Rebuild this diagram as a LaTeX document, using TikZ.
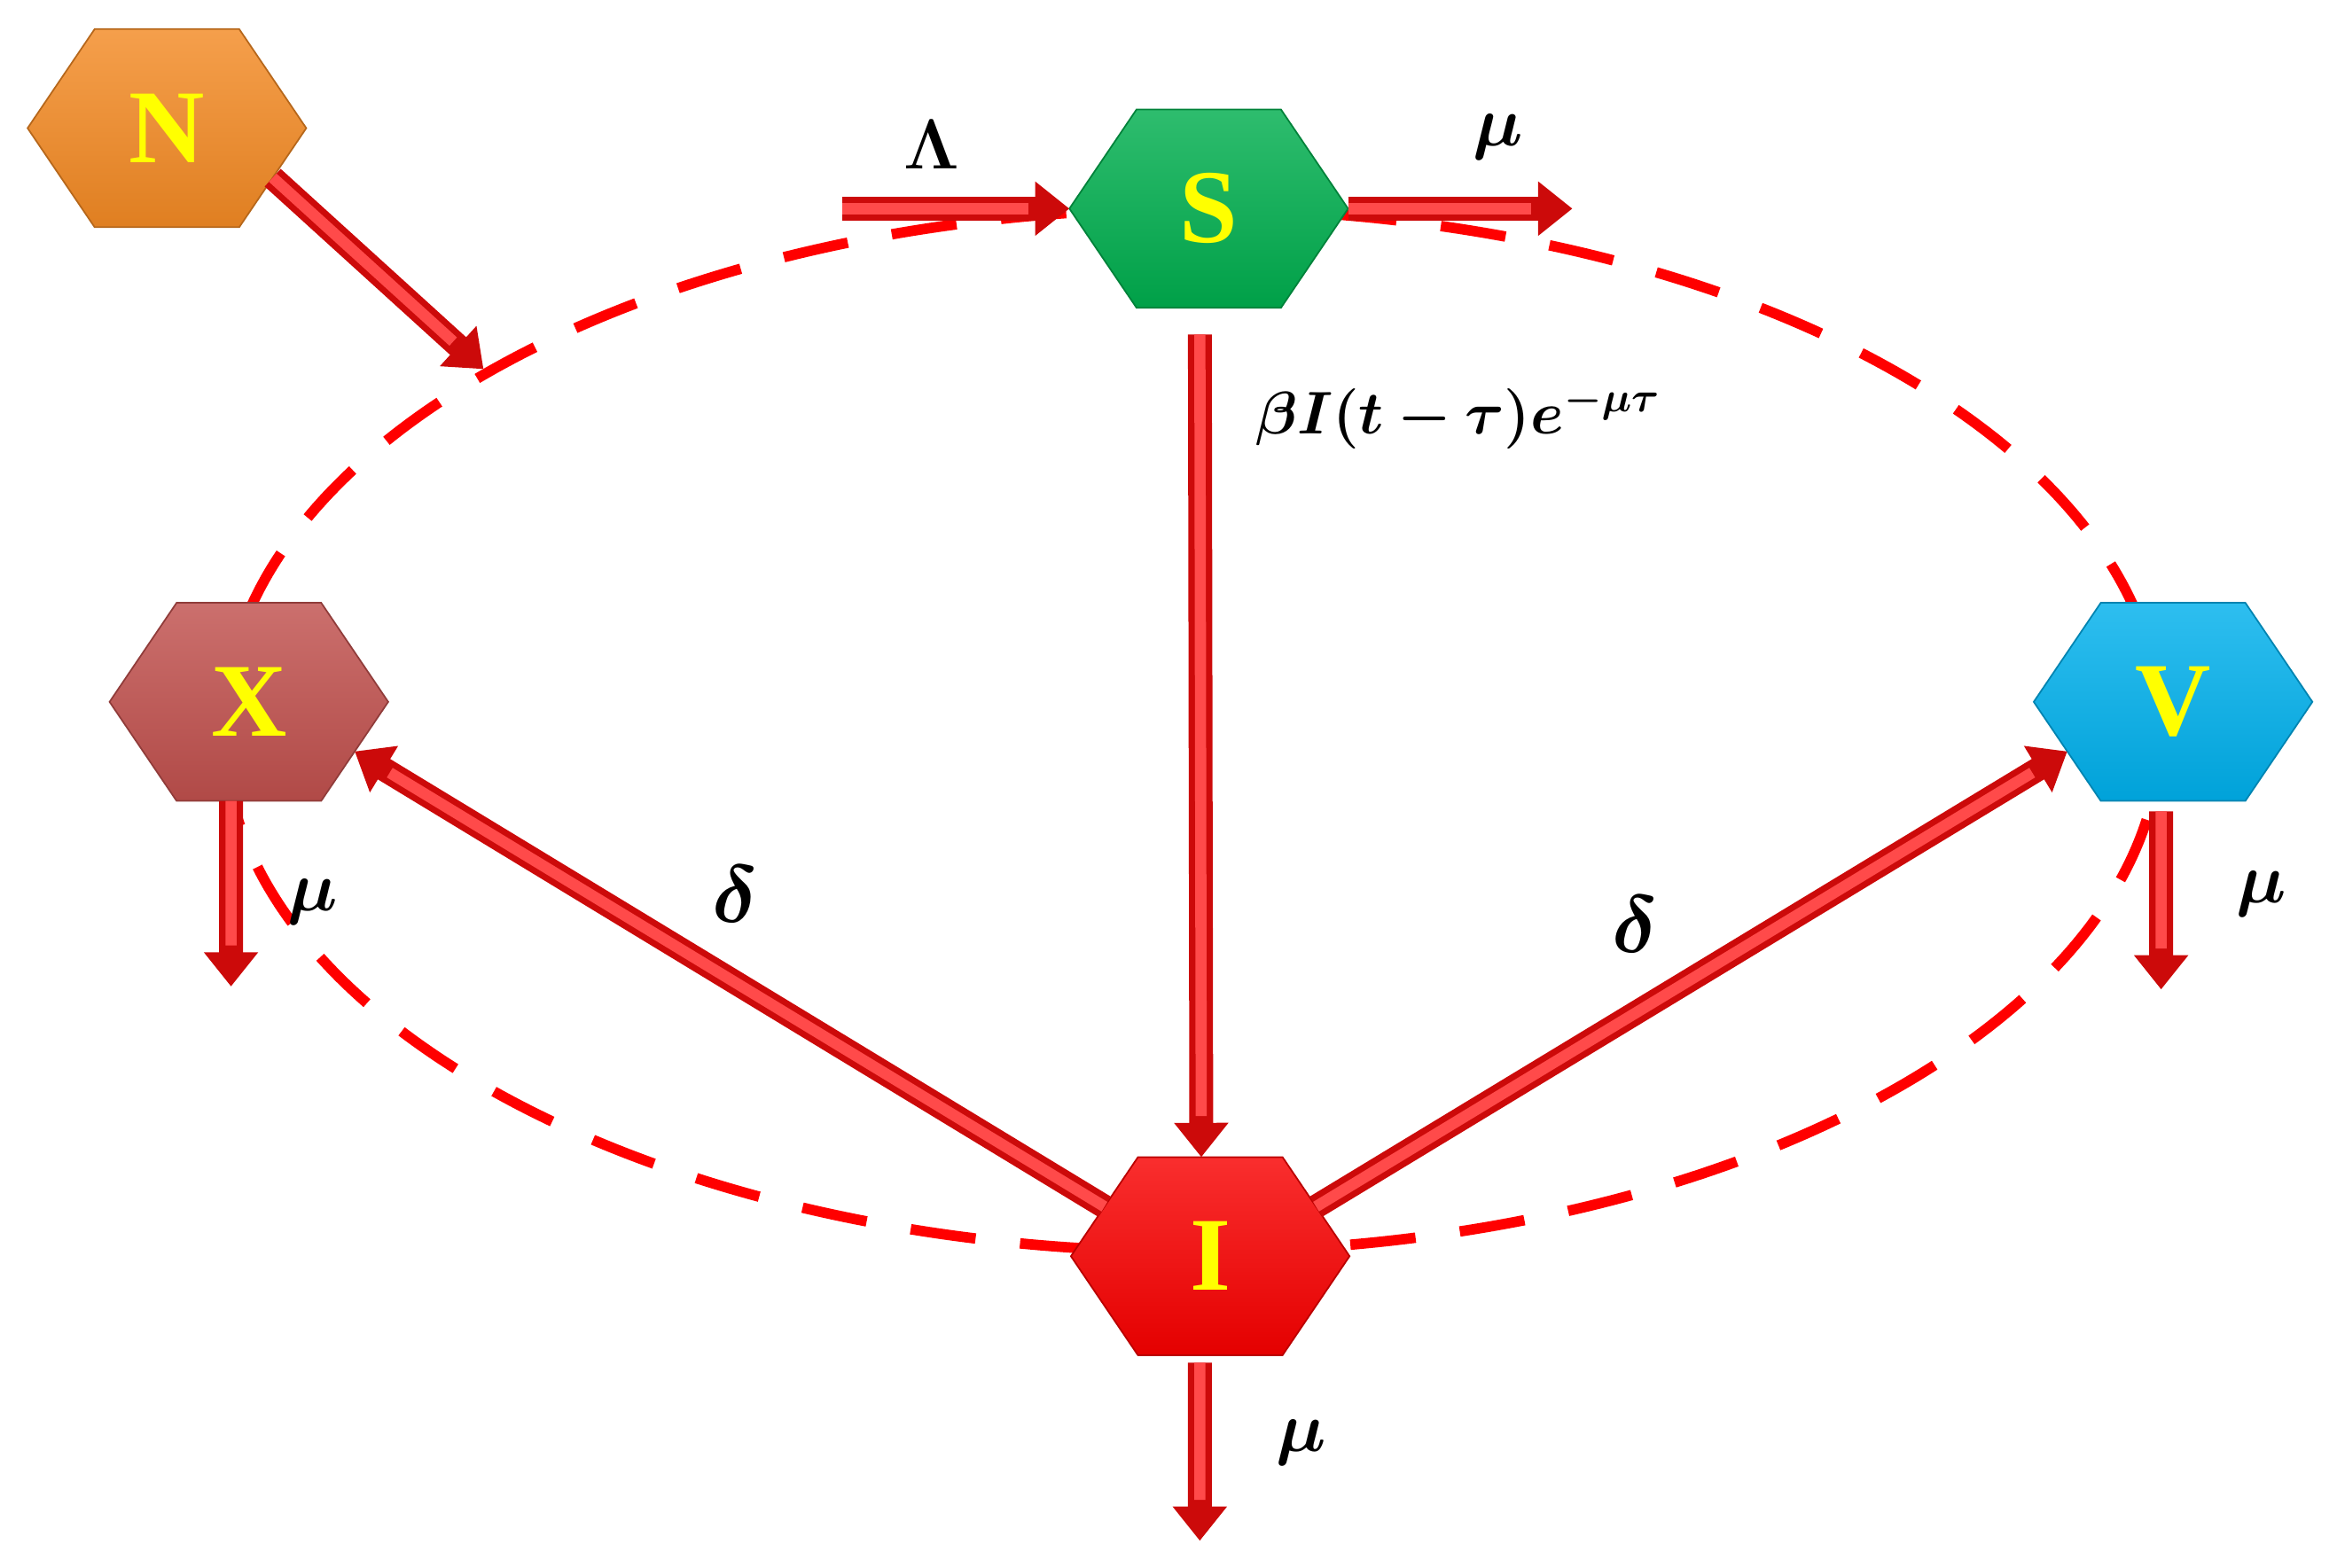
\RequirePackage{fix-cm}
\documentclass[tikz,border=0pt]{standalone}
\usepackage{amsmath,bm}
\usepackage{fontspec}
\setmainfont{Liberation Serif}
\usetikzlibrary{arrows.meta,shapes.geometric,calc}
\definecolor{hexyellow}{HTML}{FFFF00}
\definecolor{colN}{HTML}{F38A24}
\definecolor{colS}{HTML}{00AE4E}
\definecolor{colX}{HTML}{C0504D}
\definecolor{colV}{HTML}{00B0EC}
\definecolor{colI}{HTML}{F80000}
\definecolor{arrowdark}{HTML}{CC0A0A}
\definecolor{arrowlight}{HTML}{FF4A4A}
\definecolor{dashred}{HTML}{FF0000}
\newcommand\hexa[4]{%
  \node[hexbox] (#1) at (#2) {};
  \shadedraw[draw=#3!75!black, line width=0.6pt, top color=#3!82!white, bottom color=#3!92!black]
    ([xshift=0.9cm]#1.north west) -- ([xshift=-0.9cm]#1.north east) -- (#1.east)
    -- ([xshift=-0.9cm]#1.south east) -- ([xshift=0.9cm]#1.south west) -- (#1.west) -- cycle;
  \node[hexletter] (#1lbl) at (#1) {#4};
}
\newcommand\flowline[3][]{%
  \draw[flowarrow,#1] #2 -- #3;
  \draw[flowhi,#1] #2 -- #3;
}
\begin{document}
\begin{tikzpicture}[x=0.02cm, y=-0.02cm,
  hexbox/.style={rectangle, minimum width=3.74cm, minimum height=2.66cm, inner sep=0pt, outer sep=0pt},
  hexletter/.style={text=hexyellow, inner sep=0pt, font=\fontsize{40}{40}\selectfont\bfseries},
  lbl/.style={font=\fontsize{27}{30}\selectfont, text=black, inner sep=0pt},
  flowarrow/.style={draw=arrowdark, line width=0.32cm, -{Triangle[width=0.7cm,length=0.46cm]}},
  flowhi/.style={draw=arrowlight, line width=0.15cm, shorten >=0.55cm},
  loopline/.style={draw=dashred, line width=0.14cm, dash pattern=on 0.88cm off 0.6cm}
]
\useasboundingbox (0,0) rectangle (1568,1052);

% dashed loop
\node[loopline, ellipse, minimum width=26cm, minimum height=14cm, inner sep=0pt] (loop) at (800,490) {};

% compartments
\hexa{N}{112,86}{colN}{N}
\hexa{S}{811,140}{colS}{S}
\hexa{X}{167,471}{colX}{X}
\hexa{V}{1458,471}{colV}{V}
\hexa{I}{812,843}{colI}{I}

% free ends
\coordinate (lamtail) at (565,140);
\coordinate (muS) at (1055,140);
\coordinate (muX) at (155,662);
\coordinate (muV) at (1450,664);
\coordinate (muI) at (805,1034);

% connectors
\flowline{([shift={(1.42cm,-0.665cm)}]N.center)}{(loop.153)}
\flowline{(lamtail)}{(S.west)}
\flowline{(S.east)}{(muS)}
\flowline[shorten <=0.36cm]{([xshift=-0.12cm]S.south)}{([xshift=-0.12cm]I.north)}
\flowline{([shift={(-1.42cm,0.665cm)}]I.center)}{([shift={(1.42cm,-0.665cm)}]X.center)}
\flowline{([shift={(1.42cm,0.665cm)}]I.center)}{([shift={(-1.42cm,-0.665cm)}]V.center)}
\flowline{([xshift=-0.24cm]X.south)}{(muX)}
\flowline[shorten <=0.14cm]{([xshift=-0.16cm]V.south)}{(muV)}
\flowline[shorten <=0.1cm]{([xshift=-0.14cm]I.south)}{(muI)}

% labels
\node[lbl] (lLam) at (625,97) {$\bm{\Lambda}$};
\node[lbl] (lmuS) at (1005,92) {$\bm{\mu}$};
\node[lbl, anchor=west, font=\fontsize{23}{26}\selectfont] (lbeta) at (842,280) {$\bm{\beta I(t-\tau)e^{-\mu\tau}}$};
\node[lbl, font=\fontsize{31}{34}\selectfont] (ldX) at (493,600) {$\bm{\delta}$};
\node[lbl, font=\fontsize{31}{34}\selectfont] (ldV) at (1097,620) {$\bm{\delta}$};
\node[lbl] (lmuX) at (210,605) {$\bm{\mu}$};
\node[lbl] (lmuV) at (1517,600) {$\bm{\mu}$};
\node[lbl] (lmuI) at (873,968) {$\bm{\mu}$};
\end{tikzpicture}
\end{document}
